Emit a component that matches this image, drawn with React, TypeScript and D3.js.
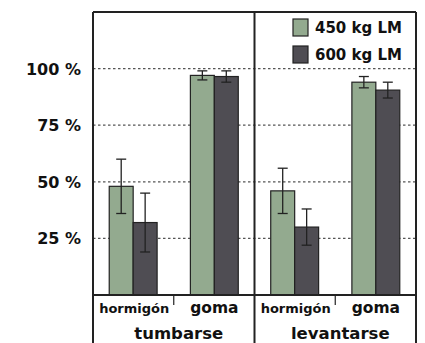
import React from 'react';
import * as d3 from 'd3';

const groups = ['tumbarse', 'levantarse'];
const surfaces = ['hormigón', 'goma'];
const series = ['450 kg LM', '600 kg LM'];
// values[group][surface][series]
const means = [
  [[48, 32], [97, 96.5]],
  [[46, 30], [94, 90.5]],
];
const errs = [
  [[12, 13], [2, 2.5]],
  [[10, 8], [2.5, 3.5]],
];
const yTicks = [25, 50, 75, 100];
const colors = ['#93aa8f', '#4f4d53'];

const W = 425;
const H = 343;
const left = 93;
const right = 416;
const top = 12;
const bottom = 295;
const font = 'DejaVu Sans, Verdana, sans-serif';

const App = () => {
  const y = d3.scaleLinear().domain([0, 125]).range([bottom, top]);
  const gx = d3.scaleBand().domain(groups).range([left, right]).padding(0);
  const sx = d3.scaleBand().domain(surfaces).range([0, gx.bandwidth()]).paddingInner(0.41).paddingOuter(0.2);
  const bx = d3.scaleBand().domain(series).range([0, sx.bandwidth()]);

  const T = (props: any) => <text fontFamily={font} fontWeight="bold" fill="#111" {...props} />;

  return (
    <svg width={W} height={H} style={{ position: 'absolute', left: 0, top: 0, background: '#fff' }}>
      {yTicks.map(t => (
        <g key={t}>
          <line x1={left} x2={right} y1={y(t)} y2={y(t)} stroke="#555" strokeWidth={1.2} strokeDasharray="2.5,2.5" />
          <T x={81} y={y(t) + 6} textAnchor="end" fontSize={16}>{t} %</T>
        </g>
      ))}
      {groups.map((g, gi) => surfaces.map((s, si) => series.map((se, k) => {
        const x0 = gx(g)! + sx(s)! + bx(se)!;
        const cx = x0 + bx.bandwidth() / 2;
        const m = means[gi][si][k];
        const e = errs[gi][si][k];
        return (
          <g key={`${g}-${s}-${se}`}>
            <rect x={x0} y={y(m)} width={bx.bandwidth()} height={bottom - y(m)} fill={colors[k]} stroke="#222" strokeWidth={1.2} />
            <line x1={cx} x2={cx} y1={y(m + e)} y2={y(m - e)} stroke="#222" strokeWidth={1.3} />
            <line x1={cx - 5} x2={cx + 5} y1={y(m + e)} y2={y(m + e)} stroke="#222" strokeWidth={1.3} />
            <line x1={cx - 5} x2={cx + 5} y1={y(m - e)} y2={y(m - e)} stroke="#222" strokeWidth={1.3} />
          </g>
        );
      })))}
      {/* frame */}
      <line x1={left} x2={right} y1={top} y2={top} stroke="#222" strokeWidth={2} />
      <line x1={left} x2={right} y1={bottom} y2={bottom} stroke="#222" strokeWidth={2} />
      <line x1={left} x2={left} y1={top} y2={H} stroke="#222" strokeWidth={2} />
      <line x1={right} x2={right} y1={top} y2={H} stroke="#222" strokeWidth={2} />
      <line x1={gx('levantarse')!} x2={gx('levantarse')!} y1={top} y2={H} stroke="#222" strokeWidth={2} />
      {groups.map(g => (
        <line key={g} x1={gx(g)! + gx.bandwidth() / 2} x2={gx(g)! + gx.bandwidth() / 2} y1={bottom} y2={bottom + 10} stroke="#222" strokeWidth={1.2} />
      ))}
      {/* x labels */}
      {groups.map(g => surfaces.map(s => (
        <T key={`${g}-${s}`} x={gx(g)! + sx(s)! + sx.bandwidth() / 2 + (s === 'hormigón' ? 1 : 0)} y={313}
          textAnchor="middle" fontSize={s === 'hormigón' ? 13 : 15.5}>{s}</T>
      )))}
      {groups.map(g => (
        <T key={g} x={gx(g)! + gx.bandwidth() / 2 + 5} y={339} textAnchor="middle" fontSize={16.5}>{g}</T>
      ))}
      {/* legend */}
      {series.map((se, k) => (
        <g key={se} transform={`translate(293,${19 + k * 27})`}>
          <rect x={0} y={0} width={15} height={17} fill={colors[k]} stroke="#222" strokeWidth={1.2} />
          <T x={22} y={14} fontSize={15}>{se}</T>
        </g>
      ))}
    </svg>
  );
};

export default App;
